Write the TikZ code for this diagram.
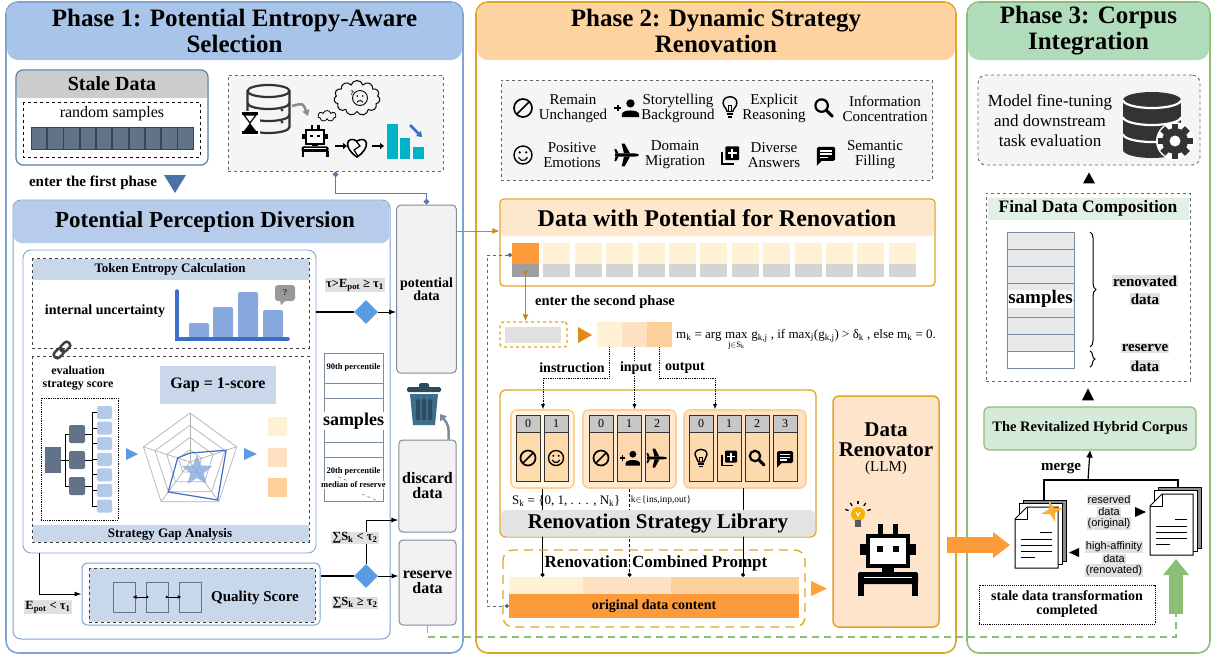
\documentclass[tikz,border=0pt]{standalone}
\usepackage{fontspec}
\setmainfont{Liberation Serif}
\newfontfamily\sansf{Liberation Sans}
\usetikzlibrary{calc,positioning,shapes.geometric,shapes.symbols,arrows.meta,decorations.pathreplacing}

\definecolor{oneline}{HTML}{7FA3D6}
\definecolor{onehead}{HTML}{A8C4E9}
\definecolor{subhead}{HTML}{B6CCEA}
\definecolor{paleblue}{HTML}{C8D7EA}
\definecolor{staleline}{HTML}{5B7BA8}
\definecolor{slate}{HTML}{627287}
\definecolor{leaf}{HTML}{B4CAEA}
\definecolor{entry}{HTML}{4A72A8}
\definecolor{pick}{HTML}{5B9BE0}
\definecolor{chartline}{HTML}{3D6FC8}
\definecolor{chartbar}{HTML}{86A8DC}
\definecolor{twoline}{HTML}{E0A526}
\definecolor{twohead}{HTML}{FDD3A2}
\definecolor{threeline}{HTML}{8CBF75}
\definecolor{threehead}{HTML}{B1DCBC}
\definecolor{ordeep}{HTML}{FD9A3A}
\definecolor{orone}{HTML}{FFF1D4}
\definecolor{ortwo}{HTML}{FDE1C0}
\definecolor{orthree}{HTML}{FDCF9A}
\definecolor{ortri}{HTML}{E08A1A}
\definecolor{boxgrey}{HTML}{F2F2F2}
\definecolor{boxline}{HTML}{7C8CA0}
\definecolor{orarrow}{HTML}{C8861A}
\definecolor{cyanbar}{HTML}{00B4C8}
\definecolor{trash}{HTML}{3F6E8C}
\definecolor{trashdark}{HTML}{2C4A60}
\definecolor{renovfill}{HTML}{FDE4CA}
\definecolor{revfill}{HTML}{D5EAD8}
\definecolor{fdchead}{HTML}{E3F0E5}
\definecolor{bulby}{HTML}{F5B400}

\newcommand\fsz[2]{\fontsize{#1}{#2}\selectfont}

\tikzset{
	icoban/.pic={\draw[line width=1.7pt] (0,0) circle (7.5); \draw[line width=1.7pt] (-5.3,5.3) -- (5.3,-5.3);},
	icosmile/.pic={\draw[line width=1.4pt] (0,0) circle (7.5); \fill (-2.7,-2.2) circle (1.1); \fill (2.7,-2.2) circle (1.1);
		\draw[line width=1.2pt] (0,0.6) ++(20:4) arc[start angle=20, end angle=160, radius=4];},
	icosearch/.pic={\draw[line width=2.2pt] (-2,-2) circle (5.2); \draw[line width=3pt, line cap=round] (1.8,1.8) -- (7,7);},
	icobulb/.pic={\draw[line width=1.4pt] (-2.6,3) .. controls (-2.6,0.5) and (-6,-1) .. (-6,-4.5) .. controls (-6,-11.5) and (6,-11.5) .. (6,-4.5) .. controls (6,-1) and (2.6,0.5) .. (2.6,3) -- cycle;
		\fill (-3,4.3) rectangle (3,6); \fill (-2,6.8) rectangle (2,8.3); \draw[line width=0.9pt] (-1.5,3) -- (-1.5,-2) -- (1.5,-2) -- (1.5,3);},
	icoperson/.pic={\fill (3,-4) circle (3.6); \fill (-4.5,8) -- (-4.5,5.5) .. controls (-4.5,1) and (10.5,1) .. (10.5,5.5) -- (10.5,8) -- cycle;
		\fill (-11,-0.9) rectangle (-5,0.9); \fill (-8.9,-3) rectangle (-7.1,3);},
	icoplane/.pic={\fill (-10,-1.3) -- (6,-1.3) .. controls (9,-1.3) and (10,-0.5) .. (10,0) .. controls (10,0.5) and (9,1.3) .. (6,1.3) -- (-10,1.3) -- cycle;
		\fill (2.5,-1.3) -- (-2,-9.5) -- (-4.5,-9.5) -- (-2.5,-1.3) -- cycle;
		\fill (2.5,1.3) -- (-2,9.5) -- (-4.5,9.5) -- (-2.5,1.3) -- cycle;
		\fill (-7,-1.3) -- (-9,-5) -- (-10.5,-5) -- (-9.5,-1.3) -- cycle;
		\fill (-7,1.3) -- (-9,5) -- (-10.5,5) -- (-9.5,1.3) -- cycle;},
	icolib/.pic={\draw[line width=1.8pt] (-7,-3) -- (-7,7.5) -- (3.5,7.5); \fill[rounded corners=1pt] (-4,-7.5) rectangle (8,4.5);
		\fill[white] (1.1,-5.5) rectangle (2.9,2.5); \fill[white] (-2,-2.4) rectangle (6,-0.6);},
	icochat/.pic={\fill[rounded corners=1.5pt] (-8,-7) rectangle (8,5); \fill (-8,3) -- (-8,9.5) -- (-3,4.5) -- cycle;
		\fill[white] (-5,-4.2) rectangle (5,-2.8); \fill[white] (-5,-1.4) rectangle (5,0); \fill[white] (-5,1.4) rectangle (2,2.8);},
	robot/.pic={\fill (-10,-36) rectangle (-5,-25); \fill (5,-36) rectangle (10,-25);
		\fill (-28,-16) rectangle (-22,-5); \fill (22,-16) rectangle (28,-5);
		\draw[line width=#1, fill=white] (-20,-24) rectangle (20,6);
		\fill (-11,-14) rectangle (-5,-8); \fill (5,-14) rectangle (11,-8);
		\fill (-6,7) rectangle (6,12);
		\fill[rounded corners=2pt] (-30,12) rectangle (30,24);
		\draw[white, line width=1pt] (-24,17) -- (24,17);
		\fill (-30,22) rectangle (-24,36); \fill (24,22) rectangle (30,36);},
	docstack/.pic={\draw[fill=black!45, line width=0.8pt] (8,-7) rectangle (51,54);
		\draw[fill=white, line width=0.8pt] (4,-3.5) rectangle (47,57.5);
		\draw[fill=white, line width=1pt] (12,0) -- (43,0) -- (43,61) -- (0,61) -- (0,12) -- cycle;
		\draw[line width=1pt] (0,12) -- (12,12) -- (12,0);
		\draw[line width=1pt] (25,25) -- (37,25) (6,32) -- (37,32) (6,38) -- (37,38) (6,44) -- (37,44) (6,50) -- (20,50);},
	gear/.pic={\fill[white] (0,0) circle (19);
		\foreach \a in {0,45,...,315} \fill[black!80, rotate=\a] (-3.4,-17.5) rectangle (3.4,-10);
		\fill[black!80] (0,0) circle (13); \fill[white] (0,0) circle (5.5);},
}

\begin{document}
\begin{tikzpicture}[x=1pt, y=-1pt,
	phase/.style={rounded corners=12pt, line width=1.6pt, fill=white},
	ttl/.style={font=\bfseries\fsz{25}{26}, align=center, inner sep=0pt},
	btext/.style={font=\bfseries\fsz{#1}{#1}, inner sep=1pt, align=center},
	ptext/.style={font=\fsz{#1}{#1}, inner sep=1pt, align=center},
	menutext/.style={font=\fsz{15}{15}, align=center, inner sep=0pt},
	hl/.style={fill=black!12, inner sep=1pt},
	decide/.style={diamond, fill=pick, minimum width=24pt, minimum height=24pt, inner sep=0pt},
	stack/.style={draw=boxline, fill=boxgrey, rounded corners=4pt, line width=1pt, minimum width=57pt, align=center},
	flow/.style={line width=1pt, -{Latex[length=7pt,width=5pt]}},
	orflow/.style={orarrow, line width=1.3pt, -{Latex[length=7pt,width=6pt]}},
	dotflow/.style={densely dotted, line width=0.8pt, -{Latex[length=5pt,width=4pt]}},
	cellhd/.style={draw=black!80, fill=black!22, line width=0.8pt},
	dbline/.style={black!80, line width=2.2pt},
	]
			%%%%% START %%%%%
			\useasboundingbox (0,0) rectangle (1214,657);
			
			% three phases
			\draw[phase, draw=oneline] (6,2) rectangle (463,653);
			\fill[onehead, rounded corners=11pt] (7,3) rectangle (462,60);
			\node[ttl] (ttlA) at (234.5,31) {Phase 1: Potential Entropy-Aware\\Selection};
			\draw[phase, draw=twoline] (476,2) rectangle (956,653);
			\fill[twohead, rounded corners=11pt] (477,3) rectangle (955,60);
			\node[ttl] (ttlB) at (716,31) {Phase 2: Dynamic Strategy\\Renovation};
			\draw[phase, draw=threeline] (967,2) rectangle (1210,653);
			\fill[threehead, rounded corners=11pt] (968,3) rectangle (1209,60);
			\node[ttl] (ttlC) at (1088.5,31) {Phase 3: Corpus\\Integration};
			
			% stale data
			\fill[white, rounded corners=7pt] (16,70) rectangle (208,165);
			\fill[black!20, rounded corners=7pt] (16.6,70.6) rectangle (207.4,98);
			\fill[black!20] (16.6,88) rectangle (207.4,98);
			\node[draw=staleline, line width=1.2pt, rounded corners=7pt, minimum width=192pt, minimum height=95pt] (stale) at (112,117.5) {};
			\node[btext=20] (staleT) at (112,84) {Stale Data};
			\draw[dashed, line width=0.8pt] (23,102) rectangle (200,157);
			\node[ptext=16] (randT) at (112,114) {random samples};
			\foreach \i in {0,...,9}
				\draw[fill=slate, draw=slate!60!black, line width=0.6pt] ({31+\i*16.3},127) rectangle ({46.5+\i*16.3},149);
			\node[btext=15] (enterA) at (93,183) {enter the first phase};
			\fill[entry] (164,175) -- (186,175) -- (175,193) -- cycle;
			
			% icon box
			\node[draw=black!60, dashed, fill=black!4, line width=0.9pt, minimum width=215pt, minimum height=96pt] (lens) at (335.5,123) {};
			\draw[dbline] (268.5,91) ellipse [x radius=21, y radius=6];
			\draw[dbline] (247.5,91) -- (247.5,127) arc[start angle=180, end angle=0, x radius=21, y radius=6] -- (289.5,91);
			\draw[dbline] (247.5,103) arc[start angle=180, end angle=0, x radius=21, y radius=6];
			\draw[dbline] (247.5,115) arc[start angle=180, end angle=0, x radius=21, y radius=6];
			\fill[black!80] (282,110) circle (1.6); \fill[black!80] (282,122) circle (1.6);
			\fill[white] (240,111) rectangle (260,136);
			\fill (242,112) rectangle (258,115); \fill (242,131) rectangle (258,134);
			\draw[line width=1.2pt] (244,115) -- (256,115) -- (250,123) -- cycle;
			\fill (244,131) -- (256,131) -- (250,123) -- cycle;
			\draw[black!45, line width=2.5pt, -{Triangle[length=6pt,width=7pt]}] (292,106) .. controls (303,103) .. (308,116);
			\node[cloud, draw, cloud puffs=7, minimum width=18pt, minimum height=11pt, line width=0.8pt, inner sep=0pt] (puffS) at (327,116) {};
			\node[cloud, draw, cloud puffs=11, minimum width=46pt, minimum height=35pt, line width=1pt, inner sep=0pt] (puffB) at (357,98) {};
			\draw[line width=0.9pt] (360,98) circle (7.5);
			\fill (357.3,96) circle (0.9); \fill (362.7,96) circle (0.9);
			\draw[line width=0.9pt] (360,104) ++(-30:3.5) arc[start angle=-30, end angle=-150, radius=3.5];
			\node[btext=7] (puzzle) at (352,93) {?};
			\pic[scale=0.45] at (315,141) {robot=1.8pt};
			\draw[line width=2pt, -{Triangle[length=4pt,width=6pt]}] (335,146) -- (347,146);
			\draw[line width=1.6pt, fill=white] (357,157) .. controls (343,148) and (346,135) .. (357,141) .. controls (368,135) and (371,148) .. (357,157) -- cycle;
			\draw[line width=1.2pt] (356,141) -- (360,146) -- (354,150) -- (358,156);
			\draw[line width=2pt, -{Triangle[length=4pt,width=6pt]}] (372,146) -- (384,146);
			\fill[cyanbar] (387,124) rectangle (398,159);
			\fill[cyanbar] (400,138) rectangle (410,159);
			\fill[cyanbar] (413,147) rectangle (424,159);
			\draw[chartline, line width=2.5pt, -{Triangle[length=5pt,width=7pt]}] (410,125) -- (422,137);
			
			% perception diversion
			\draw[draw=oneline, line width=1pt, rounded corners=8pt, fill=white] (13,200) rectangle (390,639);
			\fill[subhead, rounded corners=8pt] (13.6,200.6) rectangle (389.4,243);
			\node[btext=23] (ppdT) at (205,222) {Potential Perception Diversion};
			\node[draw=oneline, line width=0.9pt, rounded corners=8pt, minimum width=293pt, minimum height=303pt] (percep) at (169.5,401.5) {};
			
			% token entropy
			\draw[dashed, black!75, line width=0.8pt] (32,258) rectangle (309,348);
			\fill[paleblue] (32.5,258.5) rectangle (308.5,280);
			\node[btext=13] (tokT) at (170,269) {Token Entropy Calculation};
			\node[btext=14] (uncT) at (105,311) {internal uncertainty};
			\fill[chartbar, rounded corners=2pt] (189,323) rectangle (209,338);
			\fill[chartbar, rounded corners=2pt] (213,307) rectangle (233,338);
			\fill[chartbar, rounded corners=2pt] (238,292) rectangle (258,338);
			\fill[chartbar, rounded corners=2pt] (263,310) rectangle (283,338);
			\draw[chartline, line width=3.5pt, line cap=round] (177,291) -- (177,339) -- (288,339);
			\fill[black!40, rounded corners=3pt] (275,285) rectangle (295,301);
			\fill[black!40] (280,300) -- (286,300) -- (281,305) -- cycle;
			\node[btext=9, text=black!80] (askT) at (285,293) {?};
			
			% strategy gap
			\draw[dashed, black!75, line width=0.8pt] (32,356) rectangle (309,542);
			\fill[paleblue] (32.5,525) rectangle (308.5,541.5);
			\node[btext=13] (gapA) at (170,534) {Strategy Gap Analysis};
			\begin{scope}[shift={(62,350)}, rotate=45]
				\draw[black!75, line width=2.5pt, rounded corners=3pt] (-10,-3.5) rectangle (1,3.5);
				\draw[black!75, line width=2.5pt, rounded corners=3pt] (-1,-3.5) rectangle (10,3.5);
			\end{scope}
			\node[font=\bfseries\fsz{12}{12.5}, align=center, inner sep=0pt] (evalT) at (78,378) {evaluation\\strategy score};
			\node[fill=paleblue, minimum width=116pt, minimum height=38pt, btext=16] (gapT) at (218,385) {Gap = 1-score};
			\draw[densely dotted, line width=0.8pt] (41,398) rectangle (118,520);
			\fill[slate] (45,447) rectangle (61,473);
			\foreach \y in {425,451,477}
				\fill[slate, rounded corners=2pt] (69,\y) rectangle (85,{\y+18});
			\draw[line width=0.9pt] (61,460) -- (65,460) (65,434) -- (65,486);
			\foreach \y in {434,460,486}
				\draw[line width=0.9pt] (65,\y) -- (69,\y) (85,\y) -- (92,\y);
			\draw[line width=0.9pt] (92,412.5) -- (92,506);
			\foreach \i in {0,...,6} {
				\fill[leaf, rounded corners=2pt] (97,{406+\i*15.6}) rectangle (112,{419+\i*15.6});
				\draw[line width=0.9pt] (92,{412.5+\i*15.6}) -- (97,{412.5+\i*15.6});
			}
			\fill[pick] (126,448) -- (138,454) -- (126,460) -- cycle;
			\fill[pick] (244,448) -- (257,454) -- (244,460) -- cycle;
			\coordinate (rc) at (190,462);
			\foreach \r in {12.25,24.5,36.75,49}
				\draw[black!30, line width=0.7pt] ($(rc)+(-90:\r)$) -- ($(rc)+(-18:\r)$) -- ($(rc)+(54:\r)$) -- ($(rc)+(126:\r)$) -- ($(rc)+(198:\r)$) -- cycle;
			\foreach \a in {-90,-18,54,126,198}
				\draw[black!30, line width=0.7pt] (rc) -- ($(rc)+(\a:49)$);
			\node[star, star points=5, star point ratio=2.3, fill=chartbar, opacity=0.8, minimum size=32pt, inner sep=0pt] (starA) at (197,471) {};
			\draw[chartline, line width=1.2pt] ($(rc)+(-90:9)$) -- ($(rc)+(-18:38)$) -- ($(rc)+(54:47)$) -- ($(rc)+(126:37)$) -- ($(rc)+(198:13)$) -- cycle;
			\fill[orone] (268,417) rectangle (287,436);
			\fill[ortwo] (268,448) rectangle (287,467);
			\fill[orthree] (268,478) rectangle (287,497);
			
			% samples column
			\draw[draw=boxline, line width=1pt] (324,353) rectangle (383,501);
			\foreach \y in {383,398,442,457}
				\draw[draw=boxline, line width=1pt] (324,\y) -- (383,\y);
			\node[font=\bfseries\fsz{8.5}{9}, fill=white, inner sep=0.5pt] (p90) at (353.5,367) {90th percentile};
			\node[btext=18, fill=white, inner sep=0.5pt] (sampA) at (353.5,421) {samples};
			\draw[black!50, dashed, line width=0.6pt] (333,474) -- (348,481) (362,494) -- (378,501);
			\node[font=\bfseries\fsz{8.5}{9}, fill=white, inner sep=0.5pt] (p20) at (353.5,471) {20th percentile};
			\node[font=\bfseries\fsz{8.5}{9}, fill=white, inner sep=0.5pt] (pmed) at (353.5,485) {median of reserve};
			
			% pools
			\node[stack, minimum height=168pt, font=\bfseries\fsz{14}{13}] (potd) at (426.5,289) {potential\\data};
			\node[stack, minimum height=92pt, font=\bfseries\fsz{16}{15}] (disc) at (427.5,486) {discard\\data};
			\node[stack, minimum height=85pt, font=\bfseries\fsz{16}{15}] (resd) at (427.5,582.5) {reserve\\data};
			\draw[staleline, line width=1.2pt, {Turned Square[length=6pt,width=6pt]}-{Turned Square[length=6pt,width=6pt]}] (lens.south) -- ++(0,22) -| (potd.north);
			\fill[trashdark, rounded corners=1.5pt] (419,383) rectangle (429,389);
			\fill[trashdark, rounded corners=1.5pt] (407,387) rectangle (441,392);
			\fill[trash] (410,394) -- (438,394) -- (435,425) -- (413,425) -- cycle;
			\foreach \x in {416,422,428}
				\fill[trashdark, rounded corners=1pt] (\x,399) rectangle ({\x+4},420);
			\draw[boxline, line width=2.5pt, -{Triangle[length=6pt,width=8pt]}] ([xshift=-8pt]disc.north east) .. controls +(0,-14) .. (440,414);
			
			% entropy split
			\coordinate (cutA) at (0,312);
			\node[decide] (d1) at (366,312) {};
			\draw[line width=1.2pt] (percep.east |- cutA) -- (d1);
			\draw[flow] (d1) -- (potd.west |- cutA);
			\node[btext=12.5, hl] (tauA) at (355,285) {τ>E\textsubscript{pot} ≥ τ\textsubscript{1}};
			
			% quality score
			\node[draw=oneline, line width=1pt, rounded corners=5pt, minimum width=238pt, minimum height=62pt, fill=white] (qual) at (201,594) {};
			\draw[dashed, black!75, fill=paleblue, line width=0.8pt] (89,568) rectangle (315,622);
			\node[draw=slate, line width=1pt, minimum width=22pt, minimum height=30pt, inner sep=0pt] (qa) at (124,597) {};
			\node[draw=slate, line width=1pt, minimum width=22pt, minimum height=30pt, inner sep=0pt] (qb) at (157,597) {};
			\node[draw=slate, line width=1pt, minimum width=22pt, minimum height=30pt, inner sep=0pt] (qc) at (190,597) {};
			\draw[line width=1pt, {Latex[length=4pt,width=4pt]}-{Circle[length=2.5pt]}] ([xshift=-3pt]qa.east) -- ([xshift=3pt]qb.west);
			\draw[line width=1pt, {Circle[length=2.5pt]}-{Latex[length=4pt,width=4pt]}] ([xshift=-3pt]qb.east) -- ([xshift=3pt]qc.west);
			\node[btext=15] (qualT) at (255,598) {Quality Score};
			\coordinate (cutB) at (39,0);
			\draw[flow] (percep.south -| cutB) |- (qual.west);
			\node[btext=12.5, hl] (tauB) at (48,607) {E\textsubscript{pot} < τ\textsubscript{1}};
			\coordinate (cutC) at (0,576);
			\coordinate (cutD) at (0,520);
			\node[decide] (d2) at (366,576) {};
			\draw[line width=1.2pt] (qual.east |- cutC) -- (d2);
			\draw[flow] (d2) -- (resd.west |- d2);
			\draw[flow] (d2) |- (disc.west |- cutD);
			\node[btext=12.5, hl] (sumA) at (355,538) {∑S\textsubscript{k} < τ\textsubscript{2}};
			\node[btext=12.5, hl] (sumB) at (355,603) {∑S\textsubscript{k} ≥ τ\textsubscript{2}};
			
			% strategy menu
			\node[draw=black!60, dashed, fill=black!4, line width=0.9pt, minimum width=431pt, minimum height=100pt] (menu) at (716.5,130) {};
			\pic[scale=1.2] at (523,108) {icoban};
			\node[menutext] (m1) at (573,108.5) {Remain\\Unchanged};
			\pic[scale=1.15] at (627,108) {icoperson};
			\node[menutext] (m2) at (678,108.5) {Storytelling\\Background};
			\pic[scale=1.15] at (730,108) {icobulb};
			\node[menutext] (m3) at (774,108.5) {Explicit\\Reasoning};
			\pic[scale=1.2] at (824,108) {icosearch};
			\node[menutext] (m4) at (885,108.5) {Information\\Concentration};
			\pic[scale=1.2] at (523,155) {icosmile};
			\node[menutext] (m5) at (572,155) {Positive\\Emotions};
			\pic[scale=1.2] at (627,155) {icoplane};
			\node[menutext] (m6) at (675,155) {Domain\\Migration};
			\pic[scale=1.15] at (730,155) {icolib};
			\node[menutext] (m7) at (774,155) {Diverse\\Answers};
			\pic[scale=1.15] at (826,155) {icochat};
			\node[menutext] (m8) at (875,155) {Semantic\\Filling};
			
			% data with potential
			\node[draw=twoline, line width=1.3pt, rounded corners=4pt, minimum width=435pt, minimum height=87pt, fill=white] (dwp) at (717.5,242.5) {};
			\fill[ortwo!80!white, rounded corners=3pt] (501,200) rectangle (934,236);
			\node[btext=24] (dwpT) at (717,218) {Data with Potential for Renovation};
			\foreach \i in {1,...,12} {
				\fill[orone] ({512+\i*31.4},243) rectangle ({539+\i*31.4},264);
				\fill[black!17] ({512+\i*31.4},264) rectangle ({539+\i*31.4},277);
			}
			\fill[ordeep] (512,243) rectangle (539,264);
			\fill[black!38] (512,264) rectangle (539,277);
			\node[minimum width=27pt, minimum height=34pt, inner sep=0pt] (cellA) at (525.5,260) {};
			\draw[orflow, line width=0.8pt] (potd.east |- 0,231) -- (dwp.west |- 0,231);
			
			% second phase entry
			\node[draw=twoline, dashed, line width=1.3pt, rounded corners=3pt, minimum width=67pt, minimum height=25pt] (slot) at (533.5,334.5) {};
			\fill[black!12] (505,327) rectangle (561,343);
			\draw[orflow, {Circle[length=4pt]}-{Latex[length=7pt,width=6pt]}] ([yshift=-10pt]cellA.center) -- (cellA.center |- slot.north);
			\node[btext=14.5] (enterB) at (605,302) {enter the second phase};
			\fill[ortri] (578,327) -- (592,335) -- (578,343) -- cycle;
			\node[fill=orone, minimum width=25pt, minimum height=25pt, inner sep=0pt] (segI) at (609.5,334.5) {};
			\node[fill=ortwo, minimum width=25pt, minimum height=25pt, inner sep=0pt] (segN) at (634.5,334.5) {};
			\node[fill=orthree, minimum width=25pt, minimum height=25pt, inner sep=0pt] (segO) at (659.5,334.5) {};
			\node[ptext=13, anchor=base west, inner xsep=0pt] (fA) at (676,338) {m\textsubscript{k} = arg\ };
			\node[ptext=13, anchor=base west, inner xsep=0pt] (fmax) at (fA.base east) {max};
			\node[ptext=8.5, anchor=north] (fsub) at ([yshift=-1pt]fmax.south) {j$\in$S\textsubscript{k}};
			\node[ptext=13, anchor=base west, inner xsep=0pt] (fB) at (fmax.base east) {\ g\textsubscript{k,j} , if max\textsubscript{j}(g\textsubscript{k,j}) > δ\textsubscript{k} , else m\textsubscript{k} = 0.};
			
			% renovation strategy library
			\node[draw=twoline, line width=1.3pt, rounded corners=6pt, minimum width=316pt, minimum height=147pt, fill=white] (lib) at (658,463.5) {};
			\node[fill=orone!60!white, draw=orone!70!orange, line width=1.6pt, rounded corners=6pt, minimum width=63pt, minimum height=78pt] (grp1) at (542.5,449) {};
			\node[fill=ortwo!70!white, draw=ortwo!80!orange, line width=1.6pt, rounded corners=6pt, minimum width=93pt, minimum height=78pt] (grp2) at (629.5,449) {};
			\node[fill=ortwo, draw=orthree, line width=1.6pt, rounded corners=6pt, minimum width=122pt, minimum height=78pt] (grp3) at (745,449) {};
			\coordinate (insx) at (543,378);
			\coordinate (outx) at (715,378);
			\draw[dotflow] (segI.south) |- (insx) -- (insx |- grp1.north);
			\draw[dotflow] (segN.south) -- (segN.south |- grp2.north);
			\draw[dotflow] (segO.south) |- (outx) -- (outx |- grp3.north);
			\node[btext=14, fill=white] (insT) at (572,368) {instruction};
			\node[btext=14, fill=white] (inpT) at (636,368) {input};
			\node[btext=14, fill=white] (outT) at (685,368) {output};
			\foreach \i in {0,1} {
				\draw[draw=black!80, fill=orone!80!orange, line width=0.8pt] ({516+\i*28},432) rectangle ({540+\i*28},481);
				\draw[cellhd] ({516+\i*28},415) rectangle ({540+\i*28},432);
				\node[ptext=12] (numA\i) at ({528+\i*28},423.5) {\i};
			}
			\foreach \i in {0,1,2} {
				\draw[draw=black!80, fill=ortwo!90!orange, line width=0.8pt] ({589+\i*28},432) rectangle ({613+\i*28},481);
				\draw[cellhd] ({589+\i*28},415) rectangle ({613+\i*28},432);
				\node[ptext=12] (numB\i) at ({601+\i*28},423.5) {\i};
			}
			\foreach \i in {0,1,2,3} {
				\draw[draw=black!80, fill=orthree!80!white, line width=0.8pt] ({689+\i*28},432) rectangle ({713+\i*28},481);
				\draw[cellhd] ({689+\i*28},415) rectangle ({713+\i*28},432);
				\node[ptext=12] (numC\i) at ({701+\i*28},423.5) {\i};
			}
			\pic at (528,458) {icoban};
			\pic at (556,458) {icosmile};
			\pic at (601,458) {icoban};
			\pic[scale=0.95] at (630,458) {icoperson};
			\pic at (657,458) {icoplane};
			\pic at (701,459) {icobulb};
			\pic at (729,458) {icolib};
			\pic at (757,458) {icosearch};
			\pic at (785,458) {icochat};
			
			% combined prompt
			\node[fill=orone, minimum width=74pt, minimum height=17pt, inner sep=0pt] (pI) at (546,585.5) {};
			\node[fill=ortwo, minimum width=88pt, minimum height=17pt, inner sep=0pt] (pN) at (627,585.5) {};
			\node[fill=orthree, minimum width=128pt, minimum height=17pt, inner sep=0pt] (pO) at (735,585.5) {};
			\node[fill=ordeep, minimum width=290pt, minimum height=24pt, btext=14] (orig) at (654,606) {original data content};
			\draw[line width=0.9pt, -{Circle[length=4pt]}] (grp1.south) -- (grp1.south |- pI.north);
			\draw[line width=0.9pt, densely dashed, -{Circle[length=4pt]}] (grp2.south) -- (grp2.south |- pN.north);
			\draw[line width=0.9pt, -{Circle[length=4pt]}] (743,488) -- (pO.north -| 743,0);
			\fill[black!11, rounded corners=5pt] (501,510) rectangle (815,536.5);
			\node[btext=21] (libT) at (658,524) {Renovation Strategy Library};
			\node[ptext=13, anchor=west] (skT) at (511,501) {S\textsubscript{k} = \{0, 1, . . . , N\textsubscript{k}\}};
			\node[ptext=9.5] (kT) at (661,500) {k$\in$\{ins,inp,out\}};
			\draw[twoline, line width=1.3pt, dash pattern=on 9pt off 6pt, rounded corners=10pt] (503,550) rectangle (805,627);
			\node[btext=17] (promT) at (656,563) {Renovation Combined Prompt};
			\draw[black!60, dashed, line width=1pt, {Circle[length=4pt]}-{Circle[length=4pt]}] (cellA.west |- 0,255) -| (487,606) -- (orig.west);
			\fill[ordeep!90!yellow] (811,581) -- (827,588.5) -- (811,596) -- cycle;
			
			% data renovator
			\node[fill=renovfill, draw=twoline, line width=1.5pt, rounded corners=6pt, minimum width=106pt, minimum height=231pt] (renov) at (886,511.5) {};
			\node[font=\bfseries\fsz{21}{20}, align=center] (renT) at (886,440) {Data\\Renovator};
			\node[ptext=15] (llmT) at (886,468) {(LLM)};
			\pic at (888,560) {robot=4pt};
			\fill[bulby] (858,514) circle (7);
			\fill[black!65] (855,520) rectangle (861,527);
			\draw[white, line width=1pt] (856,512) -- (858,516) -- (860,512);
			\foreach \a in {-160,-125,-90,-55,-20}
				\draw[line width=1.3pt] ($(858,514)+(\a:10)$) -- ($(858,514)+(\a:13.5)$);
			\coordinate (bigY) at (0,545);
			\coordinate (docIn) at (1010,545);
			\draw[ordeep, line width=16pt, -{Triangle[length=17pt,width=25pt]}] ([xshift=7pt]renov.east |- bigY) -- (docIn);
			
			% corpus integration
			\node[draw=black!60, dashed, fill=black!4, rounded corners=8pt, line width=0.9pt, minimum width=222pt, minimum height=90pt] (model) at (1089,120) {};
			\node[font=\fsz{17}{20}, align=center] (modelT) at (1050,121) {Model fine-tuning\\and downstream\\task evaluation};
			\fill[black!80] (1123,100) rectangle (1181,150);
			\fill[black!80] (1152,150) ellipse [x radius=29, y radius=8];
			\fill[black!80] (1152,100) ellipse [x radius=29, y radius=8];
			\draw[white, line width=2.2pt] (1123,100) arc[start angle=180, end angle=0, x radius=29, y radius=8];
			\draw[white, line width=2.2pt] (1123,117) arc[start angle=180, end angle=0, x radius=29, y radius=8];
			\draw[white, line width=2.2pt] (1123,134) arc[start angle=180, end angle=0, x radius=29, y radius=8];
			\pic at (1175,141) {gear};
			\fill ($(model.south)+(-6,18)$) -- ($(model.south)+(6,18)$) -- ($(model.south)+(0,7)$) -- cycle;
			
			\node[draw=black!60, dashed, line width=0.9pt, minimum width=204pt, minimum height=188pt] (fdc) at (1088,287) {};
			\fill[fdchead] (987.5,197.5) rectangle (1188.5,220);
			\node[btext=17.5] (fdcT) at (1088,208) {Final Data Composition};
			\foreach \i in {0,...,6}
				\draw[draw=boxline, fill=black!9, line width=1pt] (1007,{232+\i*17}) rectangle (1074,{249+\i*17});
			\draw[draw=boxline, fill=white, line width=1pt] (1007,351) rectangle (1074,368);
			\node[btext=19, fill=white, inner sep=0.5pt] (sampB) at (1040.5,299) {samples};
			\draw[decorate, decoration={brace, amplitude=6pt}, line width=1pt] (1090,232) -- (1090,347);
			\draw[decorate, decoration={brace, amplitude=5pt}, line width=1pt] (1090,351) -- (1090,367);
			\node[btext=15, hl] (renvA) at (1145,281) {renovated};
			\node[btext=15, hl] (renvB) at (1145,299) {data};
			\node[btext=15, hl] (resvA) at (1145,348) {reserve};
			\node[btext=15, hl] (resvB) at (1145,366) {data};
			\fill ($(fdc.south)+(-6,19)$) -- ($(fdc.south)+(6,19)$) -- ($(fdc.south)+(0,7)$) -- cycle;
			
			\node[fill=revfill, draw=threeline, line width=1.2pt, rounded corners=5pt, minimum width=212pt, minimum height=43pt, btext=14.5] (revit) at (1090,428.5) {The Revitalized Hybrid Corpus};
			\coordinate (mj) at (1088,480);
			\draw[line width=1.2pt] (1044,503) |- (mj) -| (1178,490);
			\draw[line width=1.2pt, -{Triangle[length=7pt,width=6pt]}] (mj) -- (revit.south);
			\node[btext=15] (mergeT) at (1061,468) {merge};
			\pic at (1015,507) {docstack};
			\pic at (1150,494) {docstack};
			\fill[ordeep!80!yellow, rotate around={15:(1052,511)}] (1052,500) -- (1054.5,508.5) -- (1063,511) -- (1054.5,513.5) -- (1052,522) -- (1049.5,513.5) -- (1041,511) -- (1049.5,508.5) -- cycle;
			\node[font=\sansf\fsz{11}{11}, hl] (rvA) at (1109,500) {reserved};
			\node[font=\sansf\fsz{11}{11}, hl] (rvB) at (1109,512) {data};
			\node[font=\sansf\fsz{11}{11}, hl] (rvC) at (1109,523.5) {(original)};
			\fill (1135,507) -- (1146,512) -- (1135,517) -- cycle;
			\node[font=\sansf\fsz{11}{11}, hl] (haA) at (1114,547) {high-affinity};
			\node[font=\sansf\fsz{11}{11}, hl] (haB) at (1114,559) {data};
			\node[font=\sansf\fsz{11}{11}, hl] (haC) at (1114,570.5) {(renovated)};
			\fill (1079,548) -- (1069,552.5) -- (1079,557) -- cycle;
			\node[draw, densely dotted, line width=0.9pt, minimum width=176pt, minimum height=39pt, font=\bfseries\fsz{14}{14}, align=center] (doneT) at (1067,604.5) {stale data transformation\\completed};
			\coordinate (gbot) at (1176,614);
			\draw[threeline, line width=14pt, -{Triangle[length=16pt,width=25pt]}] (gbot) -- (1176,559);
			\draw[threeline, line width=1.5pt, dash pattern=on 7pt off 5pt] (resd.south) |- ($(gbot)+(0,23)$) -- (gbot);
			
			%%%%% END %%%%%
\end{tikzpicture}
\end{document}
